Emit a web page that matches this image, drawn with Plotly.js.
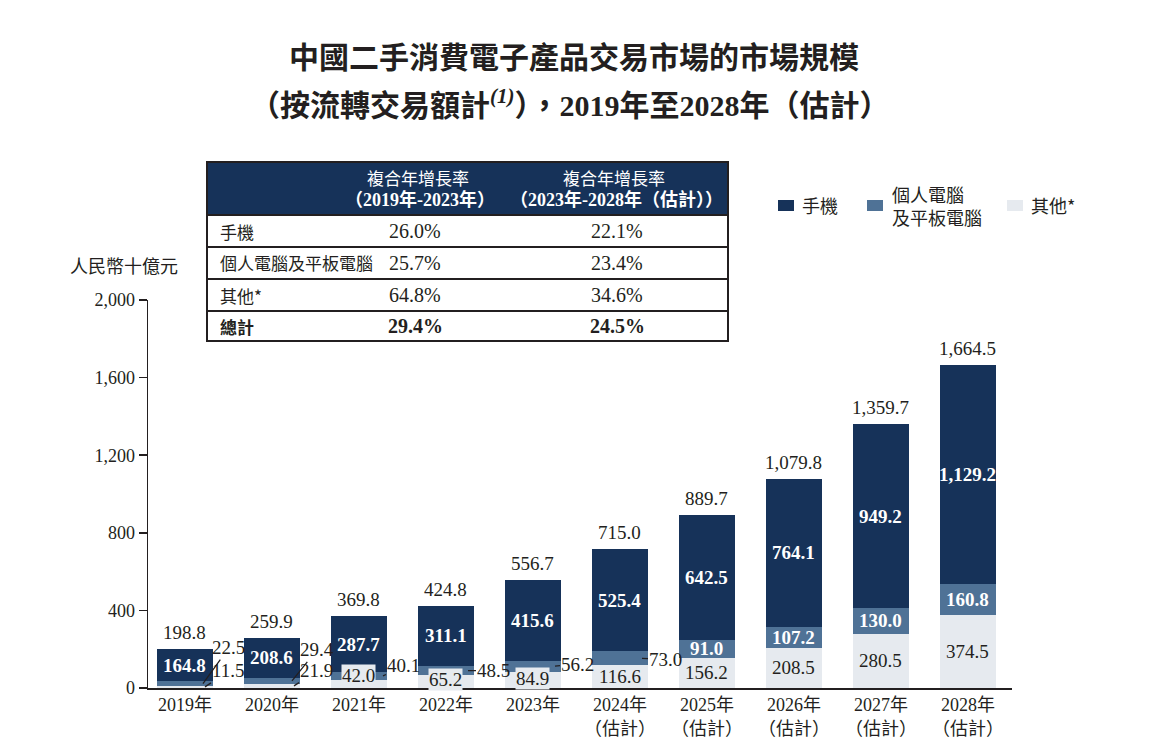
<!DOCTYPE html>
<html>
<head>
<meta charset="utf-8">
<script src="https://cdn.plot.ly/plotly-3.0.1.min.js"></script>
<style>html,body{margin:0;padding:0;background:#fff;}#chart{width:1152px;height:750px;}</style>
</head>
<body>
<div id="chart"></div>
<script>
// ---------------- DATA ----------------
const years = ['2019年','2020年','2021年','2022年','2023年','2024年<br>（估計）','2025年<br>（估計）','2026年<br>（估計）','2027年<br>（估計）','2028年<br>（估計）'];
const phones = [164.8, 208.6, 287.7, 311.1, 415.6, 525.4, 642.5, 764.1, 949.2, 1129.2];
const pcTablets = [22.5, 29.4, 40.1, 48.5, 56.2, 73.0, 91.0, 107.2, 130.0, 160.8];
const others = [11.5, 21.9, 42.0, 65.2, 84.9, 116.6, 156.2, 208.5, 280.5, 374.5];
const totals = [198.8, 259.9, 369.8, 424.8, 556.7, 715.0, 889.7, 1079.8, 1359.7, 1664.5];
const yTicks = [0, 400, 800, 1200, 1600, 2000];

const tableRowLabels = ['手機', '個人電腦及平板電腦', '其他*', '總計'];
const cagr2019_2023 = ['26.0%', '25.7%', '64.8%', '29.4%'];
const cagr2023_2028 = ['22.1%', '23.4%', '34.6%', '24.5%'];
const seriesNames = ['手機', '個人電腦<br>及平板電腦', '其他*'];

// ---------------- STYLE ----------------
const C_PHONE = '#163259', C_PC = '#4f7296', C_OTHER = '#e6eaef', C_TEXT = '#231f20';
const SERIF = 'Liberation Serif, "Noto Sans CJK TC", serif';
const CJK = '"Noto Sans CJK TC", "Liberation Serif", sans-serif';
const L = 148, R = 1012, T = 300, B = 688, W = 1152, H = 750;
const px = v => (v - L) / (R - L);
const py = v => (B - v) / (B - T);

const idx = years.map((_, i) => i);
const fmt = v => v.toFixed(1).replace(/\B(?=(\d{3})+(?!\d))/g, ',');

// outside label arrows (pixel offsets for leader lines)
const pcOutside = {0: {dx: 0.207, ax: 26, ay: -36}, 1: {dx: 0.23, ax: 25, ay: -31}, 2: {dx: 0.276, ax: 21, ay: -10},
                   3: {dx: 0.253, ax: 26, ay: 0}, 4: {dx: 0.253, ax: 23, ay: -2}, 5: {dx: 0.253, ax: 24, ay: 1}};
const otherOutside = {0: {dx: 0.23, ax: 24, ay: -16}, 1: {dx: 0.253, ax: 23, ay: -15}};
const otherShift = {2: 8, 3: 2, 4: 1};

const traces = [
  {type: 'bar', x: idx, y: others, name: seriesNames[2], marker: {color: C_OTHER}, width: 0.64, hoverinfo: 'y', showlegend: false},
  {type: 'bar', x: idx, y: pcTablets, name: seriesNames[1], marker: {color: C_PC}, width: 0.64, hoverinfo: 'y', showlegend: false},
  {type: 'bar', x: idx, y: phones, name: seriesNames[0], marker: {color: C_PHONE}, width: 0.64, hoverinfo: 'y', showlegend: false}
];

const ann = [];
const shapes = [];
const paperText = (xpix, ypix, text, font, extra) => Object.assign({
  xref: 'paper', yref: 'paper', x: px(xpix), y: py(ypix), text: text, showarrow: false,
  xanchor: 'center', yanchor: 'middle', font: font}, extra || {});

idx.forEach(i => {
  // totals
  ann.push({x: i, y: totals[i], xref: 'x', yref: 'y', text: fmt(totals[i]), showarrow: false, xanchor: 'center', yanchor: 'bottom', yshift: 4,
            font: {family: SERIF, size: 19, color: C_TEXT}});
  // phones
  ann.push({x: i, y: others[i] + pcTablets[i] + phones[i] / 2, xref: 'x', yref: 'y', text: '<b>' + fmt(phones[i]) + '</b>',
            showarrow: false, xanchor: 'center', yanchor: 'middle', font: {family: SERIF, size: 19, color: '#ffffff'}});
  // pc / tablets
  const pcMid = others[i] + pcTablets[i] / 2;
  if (pcOutside[i]) {
    const o = pcOutside[i];
    ann.push({x: i + o.dx, y: pcMid, xref: 'x', yref: 'y', text: fmt(pcTablets[i]), showarrow: true, arrowhead: 0, arrowwidth: 1.3,
              arrowcolor: C_TEXT, ax: o.ax, ay: o.ay, standoff: 0, font: {family: SERIF, size: 19, color: C_TEXT}});
  } else {
    ann.push({x: i, y: pcMid, xref: 'x', yref: 'y', text: '<b>' + fmt(pcTablets[i]) + '</b>', showarrow: false,
              xanchor: 'center', yanchor: 'middle', font: {family: SERIF, size: 19, color: '#ffffff'}});
  }
  // others
  const oMid = others[i] / 2;
  if (otherOutside[i]) {
    const o = otherOutside[i];
    ann.push({x: i + o.dx, y: oMid, xref: 'x', yref: 'y', text: fmt(others[i]), showarrow: true, arrowhead: 0, arrowwidth: 1.3,
              arrowcolor: C_TEXT, ax: o.ax, ay: o.ay, standoff: 0, font: {family: SERIF, size: 19, color: C_TEXT}});
  } else {
    ann.push({x: i, y: oMid, xref: 'x', yref: 'y', text: fmt(others[i]), showarrow: false, yshift: otherShift[i] || 0,
              xanchor: 'center', yanchor: 'middle', bgcolor: C_OTHER, borderpad: 0, font: {family: SERIF, size: 19, color: C_TEXT}});
  }
});

// title
ann.push(paperText(574, 55, '<b>中國二手消費電子產品交易市場的市場規模</b>', {family: CJK, size: 30, color: C_TEXT}));
ann.push(paperText(570, 103, '<b>（按流轉交易額計<sup><i>(1)</i></sup>），2019年至2028年（估計）</b>', {family: SERIF, size: 30, color: C_TEXT}));
// y unit
ann.push(paperText(124, 265, '人民幣十億元', {family: CJK, size: 18, color: C_TEXT}));

// table
const tX0 = 207, tX1 = 728, tY0 = 162, tHead = 215, rowH = [247, 279, 311, 341];
shapes.push({type: 'rect', xref: 'paper', yref: 'paper', x0: px(tX0), x1: px(tX1), y0: py(tHead), y1: py(tY0),
             fillcolor: C_PHONE, line: {width: 0}, layer: 'above'});
shapes.push({type: 'rect', xref: 'paper', yref: 'paper', x0: px(tX0), x1: px(tX1), y0: py(rowH[3]), y1: py(tY0),
             fillcolor: 'rgba(0,0,0,0)', line: {color: C_TEXT, width: 2}, layer: 'above'});
[tHead, rowH[0], rowH[1], rowH[2]].forEach(yv => {
  shapes.push({type: 'line', xref: 'paper', yref: 'paper', x0: px(tX0), x1: px(tX1), y0: py(yv), y1: py(yv),
               line: {color: C_TEXT, width: 2}, layer: 'above'});
});
ann.push(paperText(418, 177, '複合年增長率', {family: CJK, size: 17, color: '#ffffff'}));
ann.push(paperText(420, 199, '<b>（2019年-2023年）</b>', {family: SERIF, size: 18, color: '#ffffff'}));
ann.push(paperText(614, 177, '複合年增長率', {family: CJK, size: 17, color: '#ffffff'}));
ann.push(paperText(616, 199, '<b>（2023年-2028年（估計））</b>', {family: SERIF, size: 18, color: '#ffffff'}));
const rowCenters = [231, 263, 295, 326];
tableRowLabels.forEach((lab, r) => {
  const bold = r === 3;
  const wrap = s => bold ? '<b>' + s + '</b>' : s;
  ann.push(paperText(218, rowCenters[r], wrap(lab), {family: CJK, size: 17, color: C_TEXT}, {xanchor: 'left'}));
  ann.push(paperText(415, rowCenters[r], wrap(cagr2019_2023[r]), {family: SERIF, size: 20, color: C_TEXT}));
  ann.push(paperText(617, rowCenters[r], wrap(cagr2023_2028[r]), {family: SERIF, size: 20, color: C_TEXT}));
});

// legend
const legendItems = [
  {color: C_PHONE, x0: 778, tx: 800},
  {color: C_PC, x0: 867, tx: 890},
  {color: C_OTHER, x0: 1007, tx: 1029}
];
legendItems.forEach((it, k) => {
  shapes.push({type: 'rect', xref: 'paper', yref: 'paper', x0: px(it.x0), x1: px(it.x0 + 16), y0: py(211), y1: py(200),
               fillcolor: it.color, line: {width: 0}});
  ann.push(paperText(it.tx, 205, seriesNames[k], {family: CJK, size: 18, color: C_TEXT}, {xanchor: 'left', align: 'left'}));
});

const layout = {
  width: W, height: H,
  margin: {l: L, r: W - R, t: T, b: H - B, pad: 0},
  paper_bgcolor: '#ffffff', plot_bgcolor: '#ffffff',
  barmode: 'stack', bargap: 0.36,
  showlegend: false,
  xaxis: {range: [-0.425, 9.506], tickvals: idx, ticktext: years, showgrid: false, zeroline: false,
          showline: true, linecolor: C_TEXT, linewidth: 1.5, ticks: '', fixedrange: true,
          tickfont: {family: SERIF, size: 18, color: C_TEXT}},
  yaxis: {range: [0, 2000], tickvals: yTicks, tickformat: ',', showgrid: false, zeroline: false,
          showline: true, linecolor: C_TEXT, linewidth: 1.5, ticks: 'outside', ticklen: 8, tickwidth: 1.5, tickcolor: C_TEXT,
          fixedrange: true, tickfont: {family: SERIF, size: 18, color: C_TEXT}},
  annotations: ann,
  shapes: shapes
};

Plotly.newPlot('chart', traces, layout, {displayModeBar: false, staticPlot: true});
</script>
</body>
</html>
